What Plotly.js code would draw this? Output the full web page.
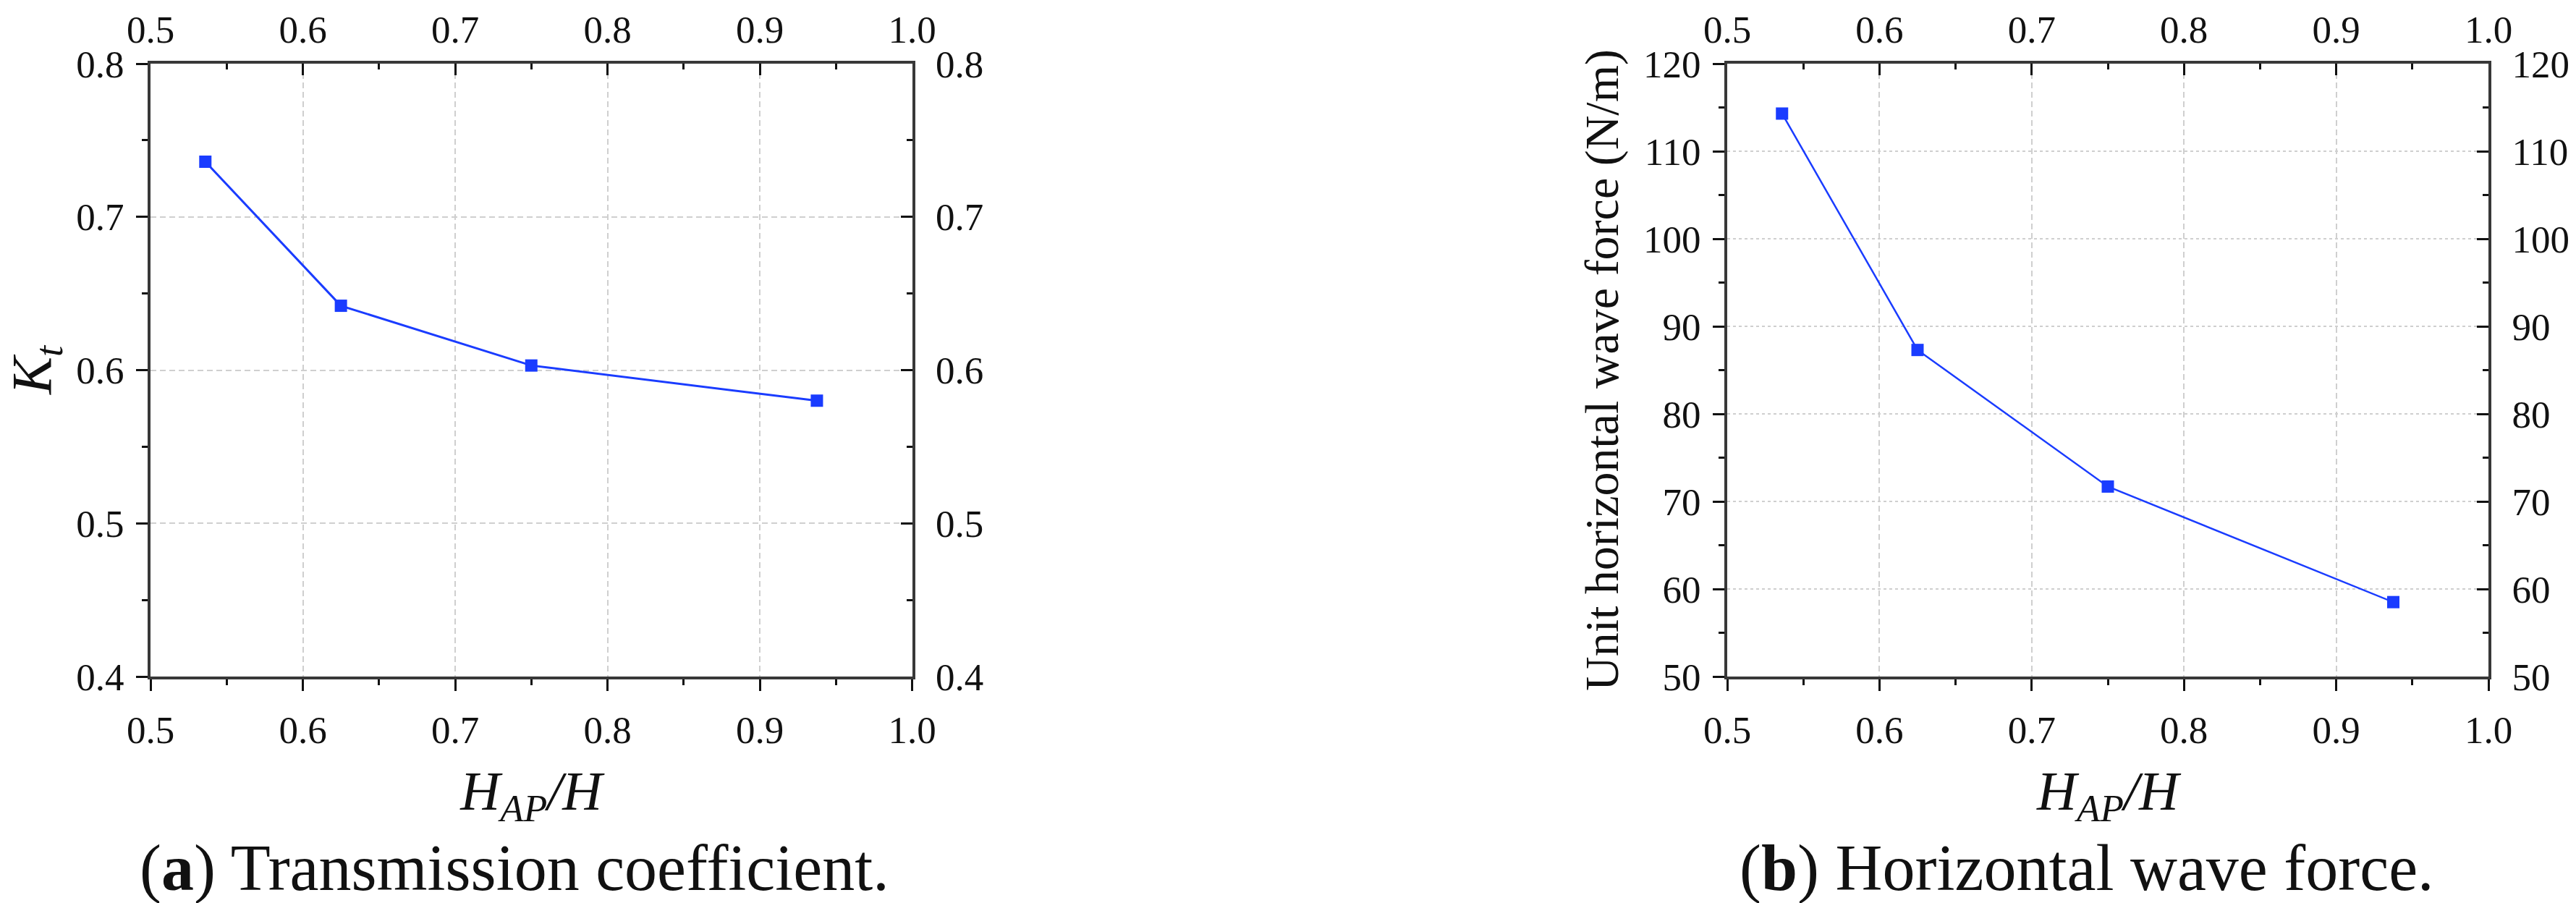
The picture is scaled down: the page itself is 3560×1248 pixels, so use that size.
<!DOCTYPE html>
<html>
<head>
<meta charset="utf-8">
<script src="https://cdn.plot.ly/plotly-3.0.1.min.js"></script>
<style>html,body{margin:0;padding:0;background:#fff;}#chart{width:3560px;height:1248px;}</style>
</head>
<body>
<div id="chart"></div>
<script>
// ---- data ----
const hapRatio = [0.536, 0.625, 0.75, 0.9375];          // H_AP/H
const transmissionKt = [0.736, 0.642, 0.603, 0.580];      // K_t
const horizontalForce = [114.3, 87.3, 71.7, 58.5];        // N/m
const xTickVals = [0.5, 0.6, 0.7, 0.8, 0.9, 1.0];
const xTickText = ['0.5', '0.6', '0.7', '0.8', '0.9', '1.0'];
const ktTickVals = [0.4, 0.5, 0.6, 0.7, 0.8];
const ktTickText = ['0.4', '0.5', '0.6', '0.7', '0.8'];
const forceTickVals = [50, 60, 70, 80, 90, 100, 110, 120];
const forceTickText = ['50', '60', '70', '80', '90', '100', '110', '120'];
const xRange = [0.5, 1.0];
const ktRange = [0.4, 0.8];
const forceRange = [50, 120];

const W = 3560, H = 1248;
const FONT = 'Liberation Serif, Times New Roman, serif';
const BLUE = '#1a3cff';
const LINE = '#383838';

const yDom = [(H - 935) / H, (H - 88) / H];
const xDomL = [208 / W, 1260.5 / W];
const xDomR = [2387 / W, 3439 / W];

function xAxis(domain, anchor, side, overlay, labelTitle) {
  const a = {
    domain: domain, anchor: anchor, side: side, range: xRange,
    tickmode: 'array', tickvals: xTickVals, ticktext: xTickText,
    showline: true, linewidth: 4, linecolor: LINE, mirror: false,
    ticks: side === 'bottom' ? 'outside' : 'inside', ticklen: 16, tickwidth: 3, tickcolor: '#111',
    minor: {dtick: 0.05, ticks: side === 'bottom' ? 'outside' : 'inside', ticklen: 8, tickwidth: 3, tickcolor: '#111', showgrid: false},
    tickfont: {family: FONT, size: 53, color: '#111'},
    showgrid: side === 'bottom', gridcolor: '#cfcfcf', gridwidth: 2, griddash: '8px,5px',
    zeroline: false, automargin: false, fixedrange: true,
    ticklabelstandoff: side === 'bottom' ? 8 : 4
  };
  if (overlay) a.overlaying = overlay;
  if (labelTitle) a.title = {text: labelTitle, font: {family: FONT, size: 76, color: '#111'}, standoff: 30};
  return a;
}
function yAxis(domain, anchor, side, overlay, range, tv, tt, dminor, labelTitle, titleSize, standoff, hgriddash) {
  const a = {
    domain: domain, anchor: anchor, side: side, range: range,
    tickmode: 'array', tickvals: tv, ticktext: tt,
    showline: true, linewidth: 4, linecolor: LINE, mirror: false,
    ticks: side === 'left' ? 'outside' : 'inside', ticklen: 16, tickwidth: 3, tickcolor: '#111',
    minor: {dtick: dminor, ticks: side === 'left' ? 'outside' : 'inside', ticklen: 8, tickwidth: 3, tickcolor: '#111', showgrid: false},
    tickfont: {family: FONT, size: 53, color: '#111'},
    showgrid: side === 'left', gridcolor: '#cfcfcf', gridwidth: 2, griddash: hgriddash || '8px,5px',
    zeroline: false, automargin: false, fixedrange: true,
    ticklabelstandoff: side === 'left' ? 6 : 18
  };
  if (overlay) a.overlaying = overlay;
  if (labelTitle) a.title = {text: labelTitle, font: {family: FONT, size: titleSize, color: '#111'}, standoff: standoff};
  return a;
}

const markerStyle = {symbol: 'square', size: 17, color: BLUE};
const ghost = {type: 'scatter', mode: 'markers', marker: {opacity: 0, size: 1}, hoverinfo: 'skip', showlegend: false};

const traces = [
  {x: hapRatio, y: transmissionKt, xaxis: 'x', yaxis: 'y', type: 'scatter', mode: 'lines+markers',
   line: {color: BLUE, width: 3}, marker: markerStyle, showlegend: false},
  Object.assign({x: hapRatio, y: transmissionKt, xaxis: 'x2', yaxis: 'y2'}, ghost),
  {x: hapRatio, y: horizontalForce, xaxis: 'x3', yaxis: 'y3', type: 'scatter', mode: 'lines+markers',
   line: {color: BLUE, width: 2.5}, marker: markerStyle, showlegend: false},
  Object.assign({x: hapRatio, y: horizontalForce, xaxis: 'x4', yaxis: 'y4'}, ghost)
];

const HAPTITLE = '<i>H</i><sub><i>AP</i></sub><i>/H</i>';

const layout = {
  width: W, height: H, paper_bgcolor: '#fff', plot_bgcolor: '#fff',
  margin: {l: 0, r: 0, t: 0, b: 0, pad: 0},
  showlegend: false,
  xaxis: xAxis(xDomL, 'y', 'bottom', null, HAPTITLE),
  xaxis2: xAxis(xDomL, 'y2', 'top', 'x', null),
  yaxis: yAxis(yDom, 'x', 'left', null, ktRange, ktTickVals, ktTickText, 0.05, '<i>K</i><sub><i>t</i></sub>', 78, 34),
  yaxis2: yAxis(yDom, 'x2', 'right', 'y', ktRange, ktTickVals, ktTickText, 0.05, null),
  xaxis3: xAxis(xDomR, 'y3', 'bottom', null, HAPTITLE),
  xaxis4: xAxis(xDomR, 'y4', 'top', 'x3', null),
  yaxis3: yAxis(yDom, 'x3', 'left', null, forceRange, forceTickVals, forceTickText, 5, 'Unit horizontal wave force (N/m)', 66, 14, '4px,4px'),
  yaxis4: yAxis(yDom, 'x4', 'right', 'y3', forceRange, forceTickVals, forceTickText, 5, null),
  annotations: [
    {xref: 'paper', yref: 'paper', x: 191 / W, y: (H - 1200) / H, xanchor: 'left', yanchor: 'middle', showarrow: false,
     text: '(<b>a</b>) Transmission coefficient.', font: {family: FONT, size: 90, color: '#111'}},
    {xref: 'paper', yref: 'paper', x: 2402 / W, y: (H - 1200) / H, xanchor: 'left', yanchor: 'middle', showarrow: false,
     text: '(<b>b</b>) Horizontal wave force.', font: {family: FONT, size: 90, color: '#111'}}
  ]
};

Plotly.newPlot('chart', traces, layout, {staticPlot: true, displayModeBar: false});
</script>
</body>
</html>
